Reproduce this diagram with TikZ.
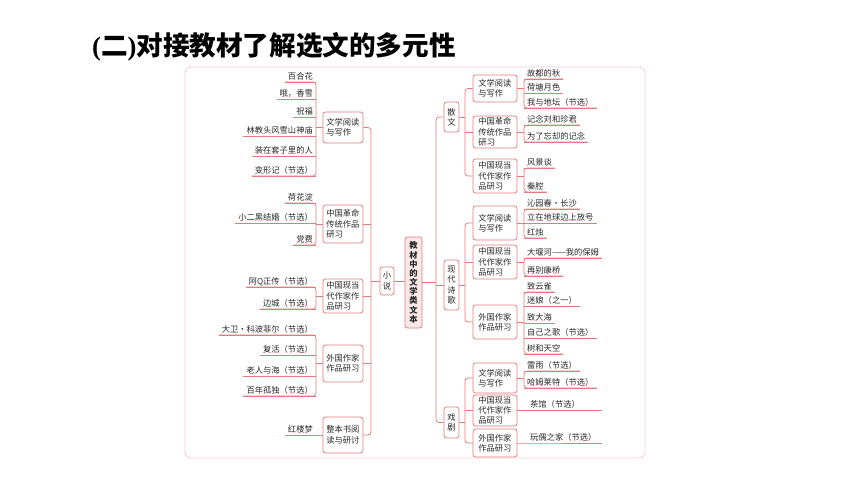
\documentclass[tikz,border=0pt]{standalone}
\usepackage{fontspec}
\setmainfont{Noto Sans CJK SC}
\newfontfamily\lserif{Liberation Serif}
\definecolor{linec}{RGB}{226,122,126}
\definecolor{framec}{RGB}{238,170,172}
\definecolor{txt}{RGB}{40,40,40}
\definecolor{cfill}{RGB}{252,232,232}
\tikzset{
 fs/.style={font=\fontsize{8.3}{10.3}\selectfont},
 leafl/.style={anchor=south east, inner xsep=3bp, inner ysep=1.5bp, text height=6.5bp, text depth=1bp, fs, text=txt},
 leafr/.style={leafl, anchor=south west},
 uline/.style={draw=linec, line width=0.75bp},
 conn/.style={draw=linec, line width=0.75bp, rounded corners=3bp},
 catbox/.style={draw=linec, line width=0.75bp, rounded corners=2.5bp, fill=white, fs, text=txt, align=left, text width=33.2bp, inner sep=0pt, minimum width=40bp},
 catboxr/.style={catbox, minimum width=44bp},
 genbox/.style={draw=linec, line width=0.75bp, rounded corners=2.5bp, fill=white, fs, text=txt, align=center, inner sep=0pt, minimum width=15bp},
}
\begin{document}
\begin{tikzpicture}[x=1bp,y=-1bp]
\useasboundingbox (0,0) rectangle (860,484);
% title
\node[anchor=west, inner sep=0pt, font=\fontsize{26.7}{30}\selectfont\bfseries] (title) at (92,47) {{\lserif (}二{\lserif )}对接教材了解选文的多元性};
% frame
\draw[draw=framec, line width=0.8bp, dash pattern=on 0.8bp off 0.8bp, rounded corners=6bp] (185,67) rectangle (645,458);
\coordinate (lv) at (371,0);
\coordinate (rv) at (436,0);
\coordinate (gv) at (465,0);
\coordinate (endx) at (602,0);
% central
\node[draw=linec, line width=0.75bp, rounded corners=2.5bp, fill=cfill, text=txt, align=center, inner sep=0pt, minimum width=17bp, minimum height=91bp, font=\fontsize{8.3}{9.2}\selectfont\bfseries] (cen) at (413.5,282.5) {教\\材\\中\\的\\文\\学\\类\\文\\本};
\node[genbox, minimum width=14bp, minimum height=28bp] (xs) at (387,281) {小\\说};
% left category boxes
\node[catbox, minimum height=31bp] (L1) at (343,127.5) {文学阅读\\与写作};
\node[catbox, minimum height=38bp] (L2) at (343,224) {中国革命\\传统作品\\研习};
\node[catbox, minimum height=34bp] (L3) at (343,296) {中国现当\\代作家作\\品研习};
\node[catbox, minimum height=37bp] (L4) at (343,363.5) {外国作家\\作品研习};
\node[catbox, minimum height=36bp] (L5) at (343,435) {整本书阅\\读与研讨};
% left leaves
\node[leafl] (a1) at (316,82) {百合花};
\node[leafl] (a2) at (316,99) {哦，香雪};
\node[leafl] (a3) at (316,117) {祝福};
\node[leafl] (a4) at (316,136) {林教头风雪山神庙};
\node[leafl] (a5) at (316,156) {装在套子里的人};
\node[leafl] (a6) at (316,176) {变形记（节选）};
\node[leafl] (c1) at (316,203) {荷花淀};
\node[leafl] (c2) at (316,223) {小二黑结婚（节选）};
\node[leafl] (c3) at (316,245) {党费};
\node[leafl] (d1) at (316,287) {阿Q正传（节选）};
\node[leafl] (d2) at (316,309) {边城（节选）};
\node[leafl] (e1) at (316,335) {大卫·科波菲尔（节选）};
\node[leafl] (e2) at (316,355) {复活（节选）};
\node[leafl] (e3) at (316,376) {老人与海（节选）};
\node[leafl] (e4) at (316,396) {百年孤独（节选）};
\node[leafl] (f1) at (316,435) {红楼梦};
\foreach \n in {a1,a2,a3,a4,a5,a6,c1,c2,c3,d1,d2,e1,e2,e3,e4,f1}
  \draw[uline] (\n.south west) -- (\n.south east);
\draw[conn] (a1.south west) -- (a1.south east) -- (a6.south east) -- (a6.south west);
\draw[conn] (c1.south west) -- (c1.south east) -- (c3.south east) -- (c3.south west);
\draw[conn] (d1.south west) -- (d1.south east) -- (d2.south east) -- (d2.south west);
\draw[conn] (e1.south west) -- (e1.south east) -- (e4.south east) -- (e4.south west);
\draw[uline] (L1.west) -- (L1.west -| a1.south east);
\draw[uline] (L2.west) -- (L2.west -| c1.south east);
\draw[uline] (L3.west) -- (L3.west -| d1.south east);
\draw[uline] (L4.west) -- (L4.west -| e1.south east);
\draw[uline] (L5.west) -- (f1.south east);
% left trunk
\draw[conn] (L1.east) -- (L1.east -| lv) -- (L5.east -| lv) -- (L5.east);
\foreach \n in {L2,L3,L4} \draw[uline] (\n.east) -- (\n.east -| lv);
\draw[uline] (xs.west) -- (xs.west -| lv);
\draw[uline] (xs.east) -- (xs.east -| cen.west);
% genres
\node[genbox, minimum height=30bp] (sw) at (451.5,117) {散\\文};
\node[genbox, minimum height=50bp] (sg) at (451.5,285) {现\\代\\诗\\歌};
\node[genbox, minimum height=31bp] (xj) at (451.5,422.5) {戏\\剧};
\draw[uline] (cen.east) -- (cen.east -| rv);
\draw[conn] (sw.west) -- (sw.west -| rv) -- (xj.west -| rv) -- (xj.west);
\draw[uline] (sg.west) -- (sg.west -| rv);
% right category boxes
\node[catboxr, minimum height=27bp] (R1) at (495,88.5) {文学阅读\\与写作};
\node[catboxr, minimum height=32bp] (R2) at (495,132) {中国革命\\传统作品\\研习};
\node[catboxr, minimum height=34bp] (R3) at (495,176) {中国现当\\代作家作\\品研习};
\node[catboxr, minimum height=34bp] (R4) at (495,223) {文学阅读\\与写作};
\node[catboxr, minimum height=34bp] (R5) at (495,262) {中国现当\\代作家作\\品研习};
\node[catboxr, minimum height=34bp] (R6) at (495,322) {外国作家\\作品研习};
\node[catboxr, minimum height=30bp] (R7) at (495,378) {文学阅读\\与写作};
\node[catboxr, minimum height=31bp] (R8) at (495,410.5) {中国现当\\代作家作\\品研习};
\node[catboxr, minimum height=28bp] (R9) at (495,443) {外国作家\\作品研习};
\draw[conn] (R1.west) -- (R1.west -| gv) -- (R3.west -| gv) -- (R3.west);
\draw[uline] (R2.west) -- (R2.west -| gv);
\draw[uline] (sw.east) -- (sw.east -| gv);
\draw[conn] (R4.west) -- (R4.west -| gv) -- (R6.west -| gv) -- (R6.west);
\draw[uline] (R5.west) -- (R5.west -| gv);
\draw[uline] (sg.east) -- (sg.east -| gv);
\draw[conn] (R7.west) -- (R7.west -| gv) -- (R9.west -| gv) -- (R9.west);
\draw[uline] (R8.west) -- (R8.west -| gv);
\draw[uline] (xj.east) -- (xj.east -| gv);
% right leaves
\node[leafr] (b1) at (524,79) {故都的秋};
\node[leafr] (b2) at (524,93.5) {荷塘月色};
\node[leafr] (b3) at (524,108) {我与地坛（节选）};
\node[leafr] (g1) at (524,125) {记念刘和珍君};
\node[leafr] (g2) at (524,142) {为了忘却的记念};
\node[leafr] (h1) at (524,168) {风景谈};
\node[leafr] (h2) at (524,192) {秦腔};
\node[leafr] (i1) at (524,209) {沁园春·长沙};
\node[leafr] (i2) at (524,223) {立在地球边上放号};
\node[leafr] (i3) at (524,238) {红烛};
\node[leafr] (j1) at (524,258) {大堰河——我的保姆};
\node[leafr] (j2) at (524,276) {再别康桥};
\node[leafr] (k1) at (524,292) {致云雀};
\node[leafr] (k2) at (524,306) {迷娘（之一）};
\node[leafr] (k3) at (524,323) {致大海};
\node[leafr] (k4) at (524,338) {自己之歌（节选）};
\node[leafr] (k5) at (524,354) {树和天空};
\node[leafr] (m1) at (524,371) {雷雨（节选）};
\node[leafr] (m2) at (524,388) {哈姆莱特（节选）};
\node[leafr, inner xsep=6bp] (n1) at (524,410.5) {茶馆（节选）};
\node[leafr, inner xsep=6bp] (o1) at (524,443) {玩偶之家（节选）};
\foreach \n in {b1,b2,b3,g1,g2,h1,h2,i1,i2,i3,j1,j2,k1,k2,k3,k4,k5,m1,m2}
  \draw[uline] (\n.south west) -- (\n.south east);
\draw[conn] (b1.south east) -- (b1.south west) -- (b3.south west) -- (b3.south east);
\draw[conn] (g1.south east) -- (g1.south west) -- (g2.south west) -- (g2.south east);
\draw[conn] (h1.south east) -- (h1.south west) -- (h2.south west) -- (h2.south east);
\draw[conn] (i1.south east) -- (i1.south west) -- (i3.south west) -- (i3.south east);
\draw[conn] (j1.south east) -- (j1.south west) -- (j2.south west) -- (j2.south east);
\draw[conn] (k1.south east) -- (k1.south west) -- (k5.south west) -- (k5.south east);
\draw[conn] (m1.south east) -- (m1.south west) -- (m2.south west) -- (m2.south east);
\draw[uline] (R1.east) -- (R1.east -| b1.south west);
\draw[uline] (R2.east) -- (R2.east -| g1.south west);
\draw[uline] (R3.east) -- (R3.east -| h1.south west);
\draw[uline] (R4.east) -- (R4.east -| i1.south west);
\draw[uline] (R5.east) -- (R5.east -| j1.south west);
\draw[uline] (R6.east) -- (R6.east -| k1.south west);
\draw[uline] (R7.east) -- (R7.east -| m1.south west);
\draw[uline] (R8.east) -- (n1.south west) -- (n1.south west -| endx);
\draw[uline] (R9.east) -- (o1.south west) -- (o1.south west -| endx);
\end{tikzpicture}
\end{document}
